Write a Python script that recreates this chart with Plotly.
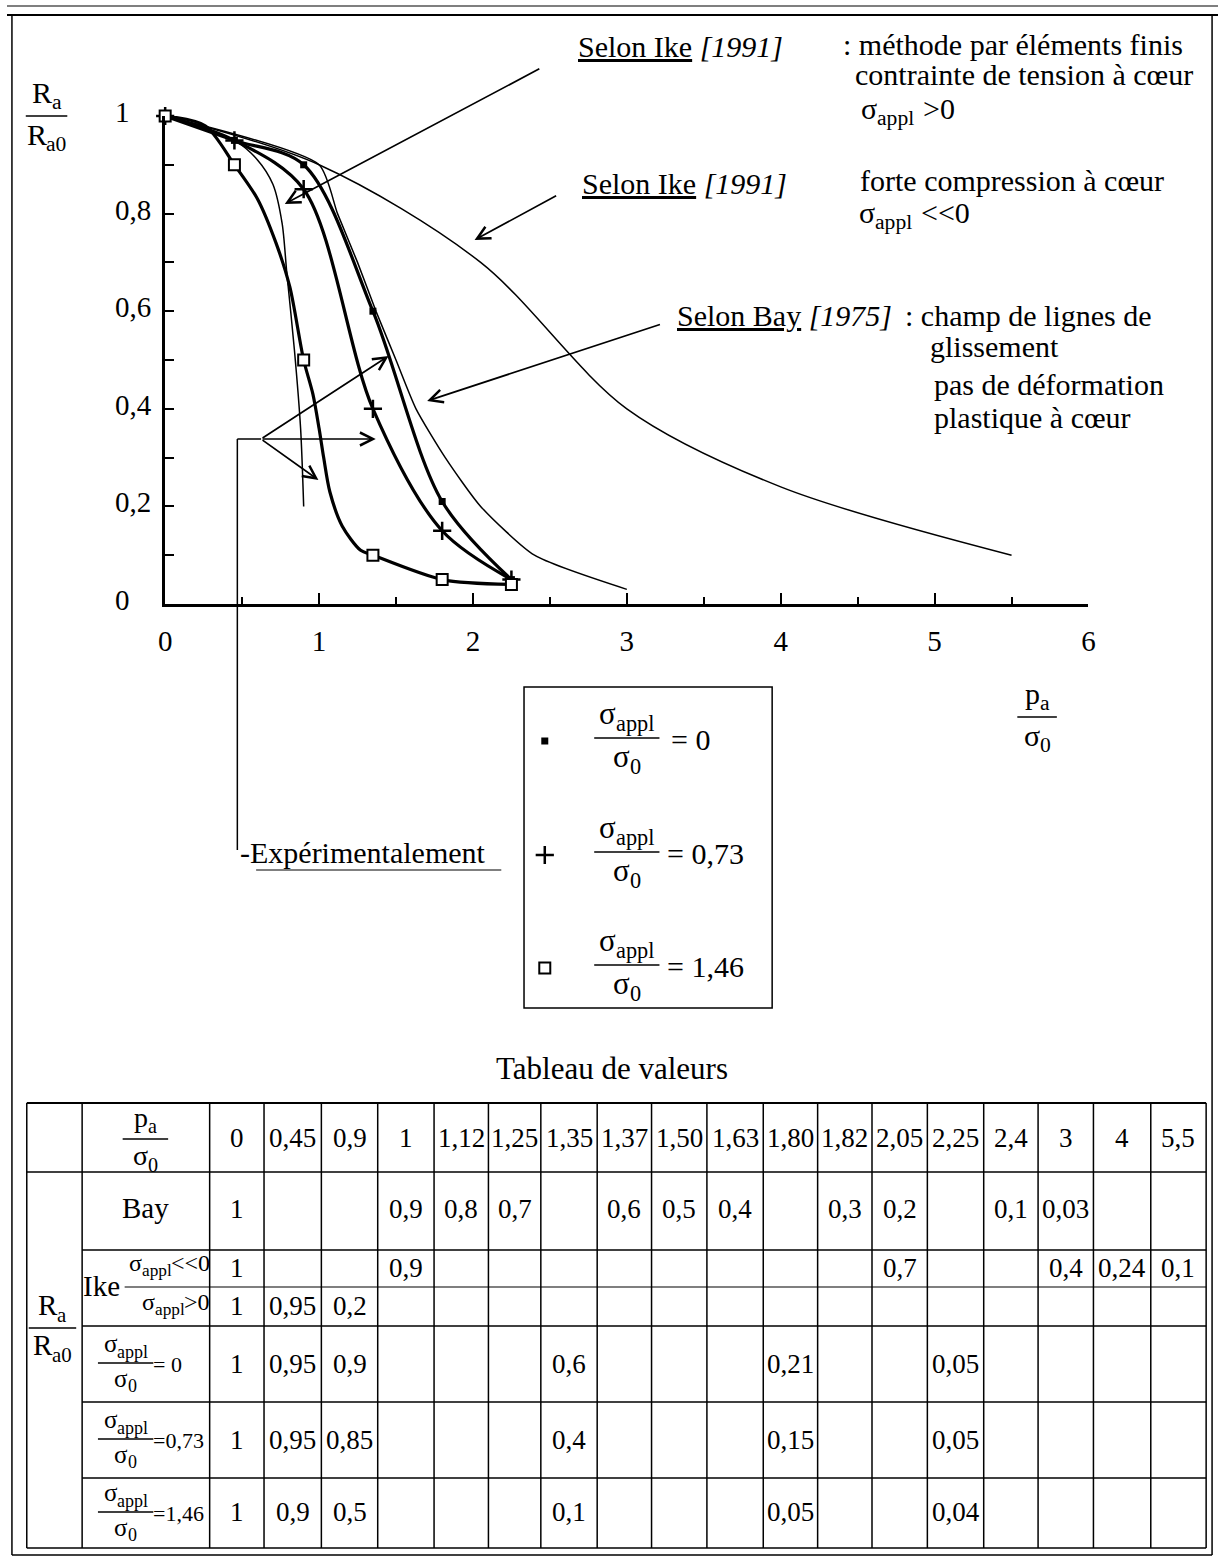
import plotly.graph_objects as go

W, H = 1225, 1559
SERIF = "Liberation Serif"

x_tick_vals = [0, 1, 2, 3, 4, 5, 6]
x_tick_text = ["0", "1", "2", "3", "4", "5", "6"]
y_tick_vals = [0, 0.2, 0.4, 0.6, 0.8, 1]
y_tick_text = ["0", "0,2", "0,4", "0,6", "0,8", "1"]

pa_cols = [0, 0.45, 0.9, 1, 1.12, 1.25, 1.35, 1.37, 1.50, 1.63, 1.80, 1.82, 2.05, 2.25, 2.4, 3, 4, 5.5]
pa_col_text = ["0", "0,45", "0,9", "1", "1,12", "1,25", "1,35", "1,37", "1,50", "1,63",
               "1,80", "1,82", "2,05", "2,25", "2,4", "3", "4", "5,5"]

# Selon Bay [1975]
bay_x = [0, 1, 1.12, 1.25, 1.37, 1.50, 1.63, 1.82, 2.05, 2.4, 3]
bay_y = [1, 0.9, 0.8, 0.7, 0.6, 0.5, 0.4, 0.3, 0.2, 0.1, 0.03]

# Selon Ike [1991], sigma_appl << 0
ike_comp_x = [0, 1, 2.05, 3, 4, 5.5]
ike_comp_y = [1, 0.9, 0.7, 0.4, 0.24, 0.1]

# Selon Ike [1991], sigma_appl > 0 (table values, and the curve)
ike_tens_x = [0, 0.45, 0.9]
ike_tens_y = [1, 0.95, 0.2]
ike_tens_curve_x = [0, 0.45, 0.6, 0.7, 0.76, 0.79, 0.84, 0.88, 0.9]
ike_tens_curve_y = [1, 0.95, 0.91, 0.86, 0.78, 0.68, 0.52, 0.36, 0.2]

# Expérimentalement
exp_x = [0, 0.45, 0.9, 1.35, 1.80, 2.25]
exp_s0_y = [1, 0.95, 0.9, 0.6, 0.21, 0.05]
exp_s073_y = [1, 0.95, 0.85, 0.4, 0.15, 0.05]
exp_s146_y = [1, 0.9, 0.5, 0.1, 0.05, 0.04]
exp_s146_curve_x = [0, 0.26, 0.45, 0.6, 0.72, 0.81, 0.9, 0.96, 1.0, 1.03, 1.07, 1.15, 1.27, 1.35, 1.8, 2.25]
exp_s146_curve_y = [1, 0.98, 0.9, 0.83, 0.74, 0.65, 0.5, 0.43, 0.36, 0.3, 0.23, 0.16, 0.11, 0.1, 0.05, 0.04]
sigma_ratio_text = ["0", "0,73", "1,46"]

# ---------------- layout constants (pixels) ----------------
PX0, PX6 = 160, 1094     # x = 0 and x = 6
PY0, PY1 = 604, 116      # y = 0 and y = 1

fig = go.Figure()


def curve(x, y, width, smoothing=1.0):
    fig.add_trace(go.Scatter(x=x, y=y, mode="lines", cliponaxis=False, hoverinfo="skip",
                             line=dict(color="black", width=width, shape="spline", smoothing=smoothing)))


M_S0 = dict(symbol="square", size=7, color="black", line=dict(width=0))
M_S073 = dict(symbol="cross-thin", size=13, line=dict(color="black", width=2.5))
M_S146 = dict(symbol="square", size=11, color="white", line=dict(color="black", width=2))


def markers(x, y, m, **kw):
    fig.add_trace(go.Scatter(x=x, y=y, mode="markers", cliponaxis=False, hoverinfo="skip", marker=m, **kw))


# theoretical curves (thin)
curve(bay_x, bay_y, 1.5, 0.6)
curve(ike_comp_x, ike_comp_y, 1.5, 0.9)
curve(ike_tens_curve_x, ike_tens_curve_y, 1.5, 0.8)
# experimental curves (thick)
curve(exp_x, exp_s0_y, 3.2, 0.9)
curve(exp_x, exp_s073_y, 3.2, 0.9)
curve(exp_s146_curve_x, exp_s146_curve_y, 3.2, 0.8)
markers(exp_x, exp_s0_y, M_S0)
markers(exp_x, exp_s073_y, M_S073)
markers(exp_x, exp_s146_y, M_S146)


# ---------------- decorations in pixel space (x2 / y2) ----------------
def seg(x0, y0, x1, y1, w=1.5):
    fig.add_shape(type="line", x0=x0, y0=y0, x1=x1, y1=y1, xref="x2", yref="y2",
                  line=dict(color="black", width=w))


def esc(s):
    return s.replace("<", "&lt;").replace(">", "&gt;")


def txt(x, y, s, size=30, xanchor="left", yanchor="middle"):
    fig.add_annotation(x=x, y=y, xref="x2", yref="y2", text=s, showarrow=False,
                       xanchor=xanchor, yanchor=yanchor, borderpad=0, borderwidth=0,
                       font=dict(size=size, family=SERIF, color="black"))


# approximate glyph advance widths (em) of the serif face, used to chain base text and subscripts
CW = {"σ": 0.55, "R": 0.667, "p": 0.5, "a": 0.444, "l": 0.278, ",": 0.25, " ": 0.25,
      "<": 0.564, ">": 0.564, "=": 0.564}
SUBR = 0.72


def tw(s, size):
    return sum(CW.get(c, 0.5) for c in s) * size


def rich(x, y, parts, size=30, xanchor="left"):
    """parts: list of (text, kind) with kind 'b' (base), 's' (subscript) or 'g' (gap, text = em)."""
    widths = []
    for t, k in parts:
        if k == "g":
            widths.append(t * size)
        else:
            widths.append(tw(t, size * (SUBR if k == "s" else 1)))
    total = sum(widths)
    x0 = x - total / 2 if xanchor == "center" else (x - total if xanchor == "right" else x)
    for (t, k), w in zip(parts, widths):
        if k != "g":
            s = size * (SUBR if k == "s" else 1)
            dy = 0.32 * size if k == "s" else 0
            txt(x0, y + dy, esc(t), s)
        x0 += w


def arrow(tail, head):
    fig.add_annotation(x=head[0], y=head[1], ax=tail[0], ay=tail[1], xref="x2", yref="y2",
                       axref="x2", ayref="y2", text="", showarrow=True, arrowhead=5,
                       arrowsize=1.5, arrowwidth=1.7, arrowcolor="black", standoff=0, startstandoff=0)


def frac(xc, ybar, top, bottom, half, size=30, w=1.5):
    seg(xc - half, ybar, xc + half, ybar, w)
    rich(xc, ybar - 0.78 * size, top, size, xanchor="center")
    rich(xc, ybar + 0.6 * size, bottom, size, xanchor="center")


SIG_APPL = [("σ", "b"), ("appl", "s")]
SIG_0 = [("σ", "b"), ("0", "s")]

# page frame
seg(0, 6, W, 6, 1.2)
seg(0, 15, W, 15, 2)
seg(5, 15, 5, 1555, 1.5)
seg(1219, 15, 1219, 1555, 1.5)
seg(5, 1555, 1219, 1555, 1.5)

# axis titles
frac(40, 116, [("R", "b"), ("a", "s")], [("R", "b"), ("a0", "s")], 21)
frac(1042, 717, [("p", "b"), ("a", "s")], SIG_0, 20)

# y tick labels (left aligned, as in the figure)
for v, t in zip(y_tick_vals, y_tick_text):
    fig.add_annotation(x=107, y=v, xref="x2", yref="y", text=t, showarrow=False, xanchor="left",
                       yanchor="middle", yshift=4, font=dict(size=29, family=SERIF, color="black"))

# source annotations
txt(578, 46, "<u>Selon Ike</u> <i>[1991]</i>")
txt(846, 44, ": méthode par éléments finis")
txt(858, 74, "contrainte de tension à cœur")
rich(864, 108, SIG_APPL + [(0.3, "g"), (">0", "b")])
txt(582, 183, "<u>Selon Ike</u> <i>[1991]</i>")
txt(863, 180, "forte compression à cœur")
rich(862, 212, SIG_APPL + [(0.3, "g"), ("<<0", "b")])
txt(678, 315, "<u>Selon Bay</u> <i>[1975]</i>")
txt(908, 315, ": champ de lignes de")
txt(934, 346, "glissement")
txt(938, 384, "pas de déformation")
txt(938, 417, "plastique à cœur")

arrow((540, 68), (281, 204))
arrow((557, 195), (473, 240))
arrow((662, 324), (425, 401))

# experimental bracket
seg(233, 439, 257, 439)
seg(233, 439, 233, 850)
arrow((257, 439), (386, 356))
arrow((257, 439), (373, 439))
arrow((257, 439), (315, 480))
txt(236, 852, "-Expérimentalement")
seg(252, 870, 500, 870, 1.2)

# legend box
fig.add_shape(type="rect", x0=523, y0=687, x1=774, y1=1008, xref="x2", yref="y2",
              line=dict(color="black", width=1.5))
leg_y = [738, 852, 965]
for m, yb, st in zip([M_S0, M_S073, M_S146], leg_y, sigma_ratio_text):
    markers([544], [yb + 3], m, xaxis="x2", yaxis="y2")
    frac(627, yb, SIG_APPL, SIG_0, 33, size=31)
    txt(672 if st == "0" else 668, yb + 1, "= " + st, 30)

# ---------------- table ----------------
txt(612, 1068, "Tableau de valeurs", 31, xanchor="center")
edges = [205, 260, 318, 375, 432, 487, 540, 597, 652, 708, 765, 820, 875, 931, 988, 1043, 1099, 1157, 1213]
T_L, T_C, T_R = 20, 76, 1213
T_TOP, T_BOT = 1103, 1548
row_lines = [1172, 1250, 1287, 1326, 1402, 1478]

seg(T_L, T_TOP, T_R, T_TOP, 2)
seg(T_L, T_BOT, T_R, T_BOT, 1.5)
for xe in [T_L, T_C] + edges:
    seg(xe, T_TOP, xe, T_BOT, 1.5)
seg(T_L, row_lines[0], T_R, row_lines[0], 1.5)
seg(T_C, row_lines[1], T_R, row_lines[1], 1.5)
seg(119, row_lines[2], T_R, row_lines[2], 1.2)
for yl in row_lines[3:]:
    seg(T_C, yl, T_R, yl, 1.5)


def cx(i):
    return (edges[i] + edges[i + 1]) / 2


def fmt(v):
    return ("%g" % v).replace(".", ",")


TS = 27
for i, t in enumerate(pa_col_text):
    txt(cx(i), 1138, t, TS, xanchor="center")

table_rows = [
    (bay_x, bay_y, 1209),
    (ike_comp_x, ike_comp_y, 1268),
    (ike_tens_x, ike_tens_y, 1306),
    (exp_x, exp_s0_y, 1364),
    (exp_x, exp_s073_y, 1440),
    (exp_x, exp_s146_y, 1512),
]
for xs, ys, yc in table_rows:
    for xv, yv in zip(xs, ys):
        txt(cx(pa_cols.index(xv)), yc, fmt(yv), TS, xanchor="center")

# row labels
frac(140, 1139, [("p", "b"), ("a", "s")], SIG_0, 23, size=28)
txt(140, 1208, "Bay", 29, xanchor="center")
txt(77, 1286, "Ike", 29)
rich(205, 1263, SIG_APPL + [("<<0", "b")], 24, xanchor="right")
rich(205, 1302, SIG_APPL + [(">0", "b")], 24, xanchor="right")
frac(46, 1328, [("R", "b"), ("a", "s")], [("R", "b"), ("a0", "s")], 24, size=29)
for st, yb in zip(sigma_ratio_text, [1363, 1439, 1512]):
    frac(120, yb, SIG_APPL, SIG_0, 28, size=25)
    txt(148, yb + 1, "=" + (" " + st if st == "0" else st), 22)

# ---------------- axes ----------------
fig.update_layout(
    width=W, height=H, margin=dict(l=0, r=0, t=0, b=0, pad=0),
    paper_bgcolor="white", plot_bgcolor="rgba(0,0,0,0)", showlegend=False,
    font=dict(family=SERIF, color="black", size=28),
    xaxis=dict(domain=[PX0 / W, PX6 / W], range=[0, 6], anchor="y", showline=True, linecolor="black",
               linewidth=3, ticks="inside", ticklen=11, tickwidth=2, tickcolor="black",
               tickmode="array", tickvals=x_tick_vals, ticktext=x_tick_text,
               tickfont=dict(size=29, family=SERIF, color="black"), ticklabelstandoff=9,
               minor=dict(tickmode="linear", tick0=0, dtick=0.5, ticks="inside", ticklen=7, tickwidth=2,
                          tickcolor="black", showgrid=False),
               showgrid=False, zeroline=False, fixedrange=True),
    yaxis=dict(domain=[1 - PY0 / H, 1 - PY1 / H], range=[0, 1], anchor="x", showline=True,
               linecolor="black", linewidth=3, ticks="inside", ticklen=9, tickwidth=2, tickcolor="black",
               tickmode="linear", tick0=0, dtick=0.1, showticklabels=False,
               showgrid=False, zeroline=False, fixedrange=True),
    xaxis2=dict(domain=[0, 1], range=[0, W], anchor="y2", visible=False, fixedrange=True),
    yaxis2=dict(domain=[0, 1], range=[H, 0], anchor="x2", visible=False, fixedrange=True),
)

fig.write_html(
    "out.html",
    config={"displayModeBar": False, "staticPlot": True},
    post_script="document.body.style.margin='0px';document.body.style.overflow='hidden';"
                "document.documentElement.style.overflow='hidden';",
)
